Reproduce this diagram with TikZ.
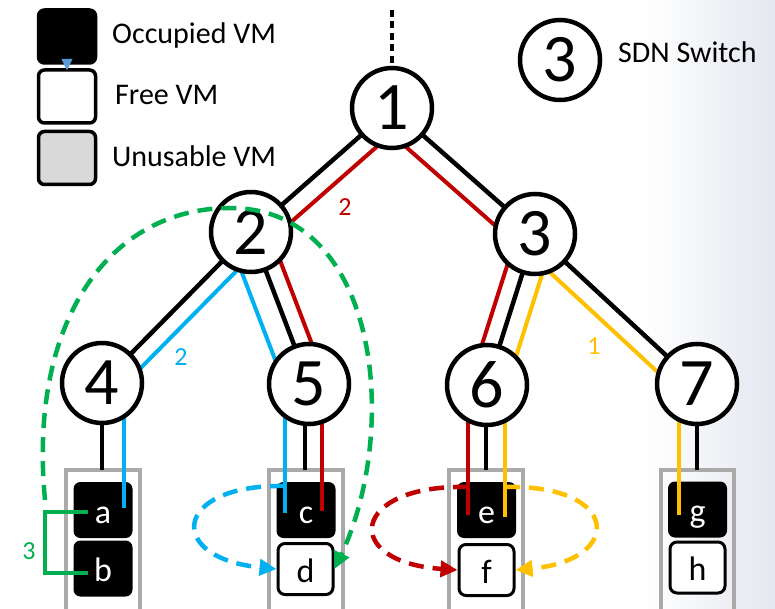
\documentclass[tikz,border=0pt]{standalone}
\usepackage{fontspec}
\setmainfont{Carlito}
\usetikzlibrary{calc,arrows.meta}

\definecolor{pathred}{RGB}{192,0,0}
\definecolor{pathblue}{RGB}{0,176,240}
\definecolor{pathyellow}{RGB}{255,192,0}
\definecolor{pathgreen}{RGB}{0,176,80}
\definecolor{rackgray}{RGB}{170,170,170}
\definecolor{unusablegray}{RGB}{217,217,217}
\definecolor{edgeshade}{RGB}{228,231,239}
\definecolor{tipblue}{RGB}{91,155,213}

% a link drawn parallel to the centre line between two switches, shifted sideways
\newcommand\offsetlink[4]{\draw[#1] ($(#2)!#4!90:(#3)$) -- ($(#3)!#4!-90:(#2)$);}

\tikzset{
  sw/.style={circle, draw=black, line width=4.5pt, fill=white, minimum size=80pt,
             inner sep=0pt, font=\fontsize{68}{68}\selectfont},
  link/.style={line width=4.5pt, black},
  rdpath/.style={line width=4pt, pathred},
  blpath/.style={line width=4pt, pathblue},
  ylpath/.style={line width=4pt, pathyellow},
  vmocc/.style={rectangle, rounded corners=7pt, fill=black, text=white,
                minimum width=59pt, minimum height=56pt, inner sep=0pt,
                font=\fontsize{34}{34}\selectfont, text height=30pt, text depth=4pt},
  vmfree/.style={vmocc, fill=white, draw=black, line width=3pt, text=black,
                 minimum width=55pt, minimum height=51pt},
  rack/.style={draw=rackgray, line width=3.2pt},
  legbox/.style={rectangle, rounded corners=6pt, draw=black, line width=3.5pt,
                 minimum width=57pt, minimum height=53pt, inner sep=0pt},
  legtext/.style={font=\fontsize{30}{30}\selectfont, anchor=base west, inner sep=0pt},
  tag/.style={font=\fontsize{26}{26}\selectfont, inner sep=0pt},
  flow/.style={line width=4.5pt, dash pattern=on 15pt off 9pt,
               -{Triangle[length=17pt,width=16pt]}},
}

\begin{document}
\begin{tikzpicture}[x=1pt,y=-1pt]
  \useasboundingbox (0,0) rectangle (775,609);
  \clip (0,0) rectangle (775,609);

  % background with soft shading at the right edge
  \fill[white] (0,0) rectangle (775,609);
  \shade[left color=white, right color=edgeshade] (645,0) rectangle (775,609);

  % legend
  \node[legbox, fill=black] (lgocc) at (67,36.5) {};
  \node[legbox, fill=white] (lgfree) at (67,96.5) {};
  \node[legbox, fill=unusablegray] (lgunus) at (67,158) {};
  \fill[tipblue] (61.5,59) -- (72.5,59) -- (67,70.5) -- cycle;
  \node[legtext] (lto) at (112,44) {Occupied VM};
  \node[legtext] (ltf) at (115,105) {Free VM};
  \node[legtext] (ltu) at (112,167) {Unusable VM};
  \node[legtext] (lts) at (618,63) {SDN Switch};

  % server racks
  \draw[rack] (66,470) rectangle (140,625);
  \draw[rack] (269,470) rectangle (343,625);
  \draw[rack] (449,470) rectangle (523,625);
  \draw[rack] (661,470) rectangle (734,625);

  % virtual machines
  \node[vmocc] (a) at (103,510) {a};
  \node[vmocc] (b) at (103,568.5) {b};
  \node[vmocc] (c) at (306,510) {c};
  \node[vmfree] (d) at (305.5,569) {d};
  \node[vmocc] (e) at (486.5,510) {e};
  \node[vmfree] (f) at (486.5,570) {f};
  \node[vmocc] (g) at (697.5,509.5) {g};
  \node[vmfree] (h) at (697.5,567.5) {h};

  % switch positions
  \coordinate (p1) at (392,108);
  \coordinate (p2) at (251,232);
  \coordinate (p3) at (535,234);
  \coordinate (p4) at (102,383);
  \coordinate (p5) at (309,384);
  \coordinate (p6) at (487,385);
  \coordinate (p7) at (697,384);
  \coordinate (uplink) at (392,10);

  % physical links
  \draw[line width=4.5pt, dash pattern=on 7pt off 4.5pt] (uplink) -- (p1);
  \draw[link] (p1) -- (p2);
  \draw[link] (p1) -- (p3);
  \draw[link] (p2) -- (p4);
  \draw[link] (p2) -- (p5);
  \draw[link] (p3) -- (p6);
  \draw[link] (p3) -- (p7);

  % flow paths along the links
  \offsetlink{rdpath}{p1}{p2}{19pt}
  \offsetlink{rdpath}{p1}{p3}{-20pt}
  \offsetlink{blpath}{p2}{p4}{17pt}
  \offsetlink{blpath}{p2}{p5}{-23pt}
  \offsetlink{rdpath}{p2}{p5}{17pt}
  \offsetlink{rdpath}{p3}{p6}{-17pt}
  \offsetlink{ylpath}{p3}{p6}{19pt}
  \offsetlink{ylpath}{p3}{p7}{-18pt}

  % links down to the racks
  \coordinate (k4) at (102,470);
  \coordinate (k5) at (305,470);
  \coordinate (k6) at (486,470);
  \coordinate (k7) at (697,470);
  \draw[link] (p4 -| k4) -- (k4);
  \draw[link] (p5 -| k5) -- (k5);
  \draw[link] (p6 -| k6) -- (k6);
  \draw[link] (p7 -| k7) -- (k7);

  \coordinate (ta) at (124,508);
  \coordinate (tcb) at (285,513);
  \coordinate (tcr) at (322,511);
  \coordinate (ter) at (468,515);
  \coordinate (tey) at (505,517);
  \coordinate (tg) at (679,515);
  \draw[blpath] (p4 -| ta) -- (ta);
  \draw[blpath] (p5 -| tcb) -- (tcb);
  \draw[rdpath] (p5 -| tcr) -- (tcr);
  \draw[rdpath] (p6 -| ter) -- (ter);
  \draw[ylpath] (p6 -| tey) -- (tey);
  \draw[ylpath] (p7 -| tg) -- (tg);

  % switches
  \node[sw] (n1) at (p1) {1};
  \node[sw] (n2) at (p2) {2};
  \node[sw] (n3) at (p3) {3};
  \node[sw] (n4) at (p4) {4};
  \node[sw] (n5) at (p5) {5};
  \node[sw] (n6) at (p6) {6};
  \node[sw] (n7) at (p7) {7};
  \node[sw] (lgsw) at (560,60) {3};

  % path labels
  \node[tag, text=pathred] (lr) at (345,207) {2};
  \node[tag, text=pathblue] (lb) at (181,357) {2};
  \node[tag, text=pathyellow] (ly) at (594,346) {1};
  \node[tag, text=pathgreen] (lg) at (29,551) {3};

  % migration of a and b
  \coordinate (ba) at (88,512);
  \coordinate (bb) at (88,573);
  \draw[pathgreen, line width=3.5pt] (ba) -| (45,542) |- (bb);

  % migrations
  \coordinate (gstart) at (45,500);
  \coordinate (gtop) at (230,208);
  \draw[flow, pathgreen] (gstart) .. controls (28,320) and (110,208) .. (gtop)
        .. controls (380,208) and (400,430) .. (d.east);

  \coordinate (bstart) at (285,486);
  \draw[flow, pathblue] (bstart) .. controls (172,484) and (165,558) .. (d.west);

  \coordinate (rstart) at (468,487);
  \draw[flow, pathred] (rstart) .. controls (350,484) and (340,562) .. (f.west);

  \coordinate (ystart) at (505,487);
  \draw[flow, pathyellow] (ystart) .. controls (620,484) and (625,560) .. (f.east);
\end{tikzpicture}
\end{document}
